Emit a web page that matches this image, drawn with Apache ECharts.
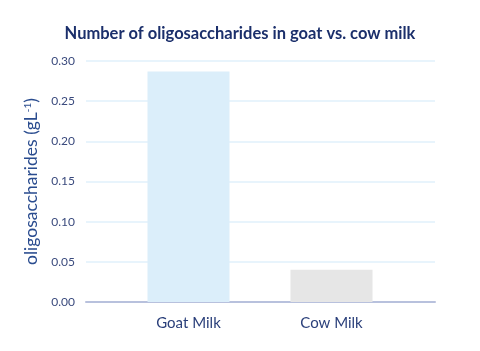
<!DOCTYPE html>
<html>
<head>
<meta charset="utf-8">
<title>index</title>
<style>
  html, body { margin: 0; padding: 0; background: #fff; }
  #container { width: 480px; height: 351px; }
</style>
</head>
<body>
<div id="container"></div>
<script src="https://cdn.jsdelivr.net/npm/echarts@6/dist/echarts.min.js"></script>
<script type="text/javascript">
  // data
  var categories = ['Goat Milk', 'Cow Milk'];
  var values = [0.287, 0.040];
  var barColors = ['#dbeefa', '#e6e6e6'];

  var font = 'Lato, "Open Sans", sans-serif';
  var navy = '#1b2f6b';

  var dom = document.getElementById('container');
  var myChart = echarts.init(dom);

  var option = {
    animation: false,
    title: {
      text: 'Number of oligosaccharides in goat vs. cow milk',
      left: 'center',
      top: 20,
      textStyle: { color: navy, fontSize: 16.5, fontWeight: 'bold', fontFamily: font }
    },
    // grid 0: full width for split lines / axis line; grid 1: where the bars sit
    grid: [
      { left: 86, right: 45, top: 61, bottom: 49 },
      { left: 117, right: 77, top: 61, bottom: 49 }
    ],
    xAxis: [
      {
        gridIndex: 0, type: 'value', min: 0, max: 1,
        axisLine: { show: true, lineStyle: { color: '#b8c1dd', width: 2 } },
        axisTick: { show: false }, axisLabel: { show: false }, splitLine: { show: false }
      },
      {
        gridIndex: 1, type: 'category', data: categories,
        axisLine: { show: false }, axisTick: { show: false },
        axisLabel: { color: '#2a3f7a', fontSize: 15, fontFamily: font, margin: 14 }
      }
    ],
    yAxis: [
      {
        gridIndex: 0, type: 'value', min: 0, max: 0.3, interval: 0.05,
        name: '{a|oligosaccharides (gL}{s|-1}{a|)}',
        nameLocation: 'middle', nameGap: 44,
        nameTextStyle: {
          rich: {
            a: { color: '#2a4c8f', fontSize: 17.5, fontFamily: font },
            s: { color: '#2a4c8f', fontSize: 10, fontFamily: font, verticalAlign: 'top', padding: [0, 0, 8, 0] }
          }
        },
        axisLine: { show: false }, axisTick: { show: false },
        axisLabel: {
          color: '#3a4a7d', fontSize: 12, fontFamily: font, margin: 11,
          formatter: function (v) { return v.toFixed(2); }
        },
        splitLine: { lineStyle: { color: '#e1f0fb', width: 1.5 } }
      },
      {
        gridIndex: 1, type: 'value', min: 0, max: 0.3, show: false
      }
    ],
    series: [{
      type: 'bar',
      xAxisIndex: 1,
      yAxisIndex: 1,
      barWidth: 82,
      data: values.map(function (v, i) {
        return { value: v, itemStyle: { color: barColors[i] } };
      })
    }]
  };

  myChart.setOption(option, true);
</script>
</body>
</html>
